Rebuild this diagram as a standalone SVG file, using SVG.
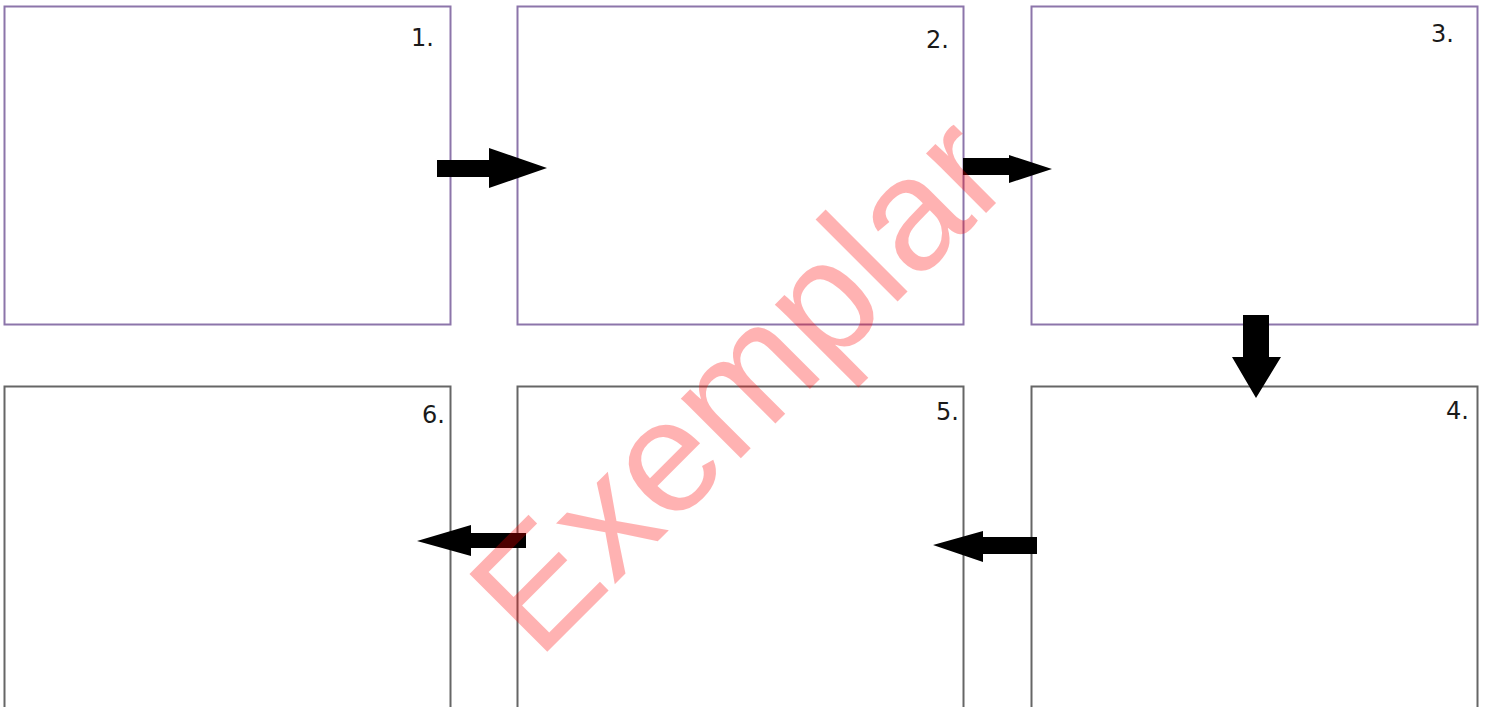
<svg xmlns="http://www.w3.org/2000/svg" width="1485" height="707" viewBox="0 0 1485 707">
<style>
.top{fill:#fff;stroke:#8c75aa;stroke-width:2}
.bot{fill:#fff;stroke:#666;stroke-width:2}
.num{font-family:"DejaVu Sans",Verdana,sans-serif;font-size:24px;fill:#1a1a1a;text-anchor:end}
.arr{fill:#000}
.wm{font-family:"Liberation Sans",Arial,sans-serif;font-size:160px;fill:#ff0000;fill-opacity:0.3}
</style>
<rect width="1485" height="707" fill="#fff"/>
<g id="node1"><rect class="top" x="4.5" y="6.5" width="446" height="318"/><text class="num" x="434" y="46">1.</text></g>
<g id="node2"><rect class="top" x="517.5" y="6.5" width="446" height="318"/><text class="num" x="949" y="48">2.</text></g>
<g id="node3"><rect class="top" x="1031.5" y="6.5" width="446" height="318"/><text class="num" x="1454" y="42">3.</text></g>
<g id="node4"><rect class="bot" x="1031.5" y="386.5" width="446" height="330"/><text class="num" x="1469" y="419">4.</text></g>
<g id="node5"><rect class="bot" x="517.5" y="386.5" width="446" height="330"/><text class="num" x="959" y="420">5.</text></g>
<g id="node6"><rect class="bot" x="4.5" y="386.5" width="446" height="330"/><text class="num" x="445" y="423">6.</text></g>
<g id="connectors">
<polygon class="arr" points="437,160 489,160 489,148 547,168 489,188 489,177 437,177"/>
<polygon class="arr" points="963,158 1009,158 1009,155 1052,169 1009,183 1009,175 963,175"/>
<polygon class="arr" points="1243,315 1269,315 1269,357 1281,357 1256,398 1232,357 1243,357"/>
<polygon class="arr" points="1037,537 983,537 983,531 933,545 983,562 983,554 1037,554"/>
<polygon class="arr" points="526,533 471,533 471,525 417,541 471,556 471,548 526,548"/>
</g>
<text class="wm" transform="translate(538,661) rotate(-45)" x="0" y="0">Exemplar</text>
</svg>
